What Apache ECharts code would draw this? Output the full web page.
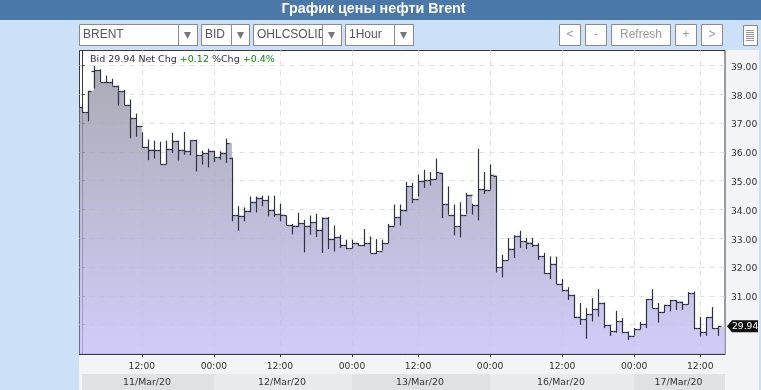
<!DOCTYPE html>
<html>
<head>
<meta charset="utf-8">
<title>BRENT</title>
<style>
html, body { margin: 0; padding: 0; background: #cce0f8; }
#main { width: 761px; height: 390px; }
</style>
<script src="https://cdn.jsdelivr.net/npm/echarts@6/dist/echarts.min.js"></script>
</head>
<body>
<div id="main"></div>
<script>
var opens = [37.57,37.37,38.80,38.84,38.42,38.41,38.30,38.11,37.64,37.18,36.91,36.18,36.08,36.05,35.58,36.11,36.39,36.07,36.02,36.40,35.88,35.96,36.04,35.82,35.97,35.80,33.79,33.78,33.96,34.27,34.41,34.32,33.98,33.84,33.82,33.46,33.44,33.53,33.44,33.56,33.30,33.72,32.97,33.04,32.77,32.66,32.85,32.76,32.83,32.49,32.54,32.83,33.44,33.74,33.97,34.80,34.37,34.99,35.01,35.06,35.27,34.19,33.82,33.42,33.82,34.51,34.14,34.71,34.66,35.17,32.00,32.23,32.64,33.09,32.89,32.85,32.77,32.37,31.79,32.11,31.42,31.19,31.04,30.28,30.19,30.37,30.54,30.75,29.99,29.79,30.13,29.74,29.62,29.84,30.03,30.89,30.57,30.45,30.69,30.84,30.80,30.72,31.09,29.88,29.76,30.25,29.88];
var highs = [37.57,38.12,38.98,38.86,38.65,38.54,38.30,38.15,37.82,37.33,36.68,36.43,36.39,36.35,36.39,36.66,36.39,36.69,36.39,36.42,36.04,36.11,36.04,36.02,36.46,35.80,34.11,34.07,34.45,34.45,34.48,34.48,34.48,34.20,33.78,33.50,33.88,33.64,33.79,33.85,33.72,33.74,33.44,33.12,32.95,32.95,32.83,33.32,33.06,32.97,32.95,33.50,34.17,34.17,34.95,34.92,35.21,35.38,35.30,35.77,35.27,34.80,34.17,34.25,34.57,34.20,36.11,35.30,35.56,35.17,32.43,33.01,33.10,33.26,33.01,33.01,32.83,32.49,32.37,32.36,31.58,31.30,31.04,30.75,30.57,30.92,31.23,30.77,29.99,30.48,30.23,29.76,29.88,30.09,30.89,31.23,30.75,30.69,30.86,30.86,30.80,31.13,31.15,30.26,30.26,30.61,29.96];
var lows = [37.37,37.06,38.20,38.42,38.39,38.30,37.61,37.63,36.47,36.53,36.14,35.71,35.77,35.58,35.58,35.96,35.70,35.90,35.88,35.32,35.56,35.46,35.65,35.73,35.62,33.59,33.26,33.59,33.90,33.90,34.11,33.76,33.74,33.59,33.45,33.13,33.39,32.51,33.12,33.04,32.49,32.62,32.54,32.66,32.62,32.66,32.74,32.72,32.49,32.46,32.58,32.83,33.44,33.44,33.93,34.22,34.45,34.75,34.83,35.04,33.70,33.82,33.10,33.03,33.85,33.82,33.62,34.54,34.69,31.81,31.64,32.25,32.31,32.66,32.62,32.69,32.25,31.77,31.58,31.41,31.15,30.86,30.22,29.99,29.51,30.11,30.28,29.88,29.61,29.72,29.70,29.47,29.62,29.84,29.88,30.57,30.07,30.42,30.46,30.51,30.51,30.71,29.84,29.59,29.61,29.85,29.61];
var closes = [37.37,38.12,38.84,38.42,38.41,38.30,38.11,37.64,37.18,36.91,36.18,36.08,36.05,35.58,36.11,36.39,36.07,36.02,36.40,35.88,35.96,36.04,35.82,35.97,36.31,33.79,33.78,33.96,34.27,34.41,34.32,33.98,33.84,33.82,33.46,33.44,33.53,33.44,33.56,33.30,33.72,32.97,33.04,32.77,32.66,32.85,32.76,32.83,32.49,32.54,32.83,33.44,33.74,33.97,34.80,34.37,34.99,35.01,35.06,35.29,34.19,33.82,33.42,33.82,34.51,34.14,34.71,34.66,35.21,32.00,32.23,32.64,33.09,32.89,32.85,32.77,32.37,31.79,32.11,31.42,31.19,31.04,30.28,30.19,30.37,30.54,30.75,29.99,29.79,30.13,29.74,29.62,29.84,30.03,30.89,30.57,30.45,30.69,30.84,30.80,30.72,31.09,29.88,29.76,30.25,29.88,29.94];

var priceTicks = [30,31,32,33,34,35,36,37,38,39];
var priceLabels = [31,32,33,34,35,36,37,38,39];
var timeTicks = [10,22,33,45,56,68,80,92,103];
var timeLabels = ['12:00','00:00','12:00','00:00','12:00','00:00','12:00','00:00','12:00'];
var dayNames = ['11/Mar/20','12/Mar/20','13/Mar/20','16/Mar/20','17/Mar/20'];
var dayStarts = [0,22,45,68,92];
var lastBid = 29.94;

var xMin = -0.38, xMax = 107.12;
var barColor = '#2c3240';
var chartFont = '"DejaVu Sans"';
var uiFont = '"Liberation Sans"';

var chart = echarts.init(document.getElementById('main'));

var bars = closes.map(function (c, i) { return [i, opens[i], highs[i], lows[i], c]; });
// area runs from axis to axis, so it needs an extra point at each end
var areaData = [[xMin, opens[0]]].concat(closes.map(function (c, i) { return [i, c]; }));
areaData.push([xMax, lastBid]);

function renderBar(params, api) {
    var x = Math.round(api.coord([api.value(0), 0])[0]) + 0.5;
    var yOpen = Math.round(api.coord([0, api.value(1)])[1]) + 0.5;
    var yHigh = api.coord([0, api.value(2)])[1];
    var yLow = api.coord([0, api.value(3)])[1];
    var yClose = Math.round(api.coord([0, api.value(4)])[1]) + 0.5;
    var st = { stroke: barColor, lineWidth: 1.2, fill: null };
    return {
        type: 'group',
        children: [
            { type: 'line', shape: { x1: x, y1: yHigh, x2: x, y2: yLow }, style: st },
            { type: 'line', shape: { x1: x - 3, y1: yOpen, x2: x, y2: yOpen }, style: st },
            { type: 'line', shape: { x1: x, y1: yClose, x2: x + 3, y2: yClose }, style: st }
        ]
    };
}

function box(x, y, w, h, z) {
    return {
        type: 'rect', z: z || 1,
        shape: { x: x + 0.5, y: y + 0.5, width: w, height: h },
        style: { fill: '#fff', stroke: '#8a8a8a', lineWidth: 1 }
    };
}
function label(x, y, text, color, font, align, z) {
    return {
        type: 'text', z: z || 2, x: x, y: y,
        style: { text: text, fill: color, font: font, align: align || 'left', verticalAlign: 'middle' }
    };
}
function combo(x, w, divider, text) {
    return [
        box(x, 24, w, 21),
        label(x + 4, 35, text, '#555', '12px ' + uiFont),
        box(divider, 24, x + w - divider, 21, 3),
        { type: 'polygon', z: 4, shape: { points: [[divider + 6, 32], [divider + 13, 32], [divider + 9.5, 39]] }, style: { fill: '#777' } }
    ];
}
function button(x, w, text) {
    return [box(x, 24, w, 21), label(x + w / 2 + 0.5, 35, text, '#999', '12px ' + uiFont, 'center')];
}

var chrome = [
    { type: 'rect', z: 1, shape: { x: 0, y: 0, width: 761, height: 20 }, style: { fill: '#4a78a8' } },
    label(373.5, 9, 'График цены нефти Brent', '#fff', 'bold 14.3px ' + uiFont, 'center'),
    { type: 'rect', z: -5, shape: { x: 79, y: 50, width: 680, height: 340 }, style: { fill: '#f2f4f6' } }
].concat(
    combo(79, 118, 178, 'BRENT'),
    combo(201, 48, 231, 'BID'),
    combo(253, 88, 322, 'OHLCSOLID'),
    combo(345, 68, 394, '1Hour'),
    button(559, 21, '<'),
    button(585, 21, '-'),
    button(611, 59, 'Refresh'),
    button(675, 21, '+'),
    button(701, 21, '>'),
    [box(743, 25, 14, 20)],
    [30, 32, 34, 36, 38, 40].map(function (y) {
        return { type: 'line', z: 2, shape: { x1: 746, y1: y + 0.5, x2: 754, y2: y + 0.5 }, style: { stroke: '#999', lineWidth: 1 } };
    })
);

var option = {
    animation: false,
    backgroundColor: '#cce0f8',
    textStyle: { fontFamily: 'DejaVu Sans' },
    grid: {
        left: 79.5, top: 50.5, width: 645.5, height: 303.5,
        show: true, backgroundColor: '#fff', borderColor: '#3a3a3a', borderWidth: 1
    },
    xAxis: {
        type: 'value', min: xMin, max: xMax,
        axisLine: { show: true, lineStyle: { color: '#3a3a3a' } },
        axisTick: { show: true, length: 3, customValues: timeTicks, lineStyle: { color: '#3a3a3a' } },
        axisLabel: {
            customValues: timeTicks, color: '#333', fontSize: 9.2, margin: 8,
            formatter: function (v) { return timeLabels[timeTicks.indexOf(v)]; }
        },
        splitLine: { show: true, lineStyle: { color: '#e0e0e4', type: [5, 5] } }
    },
    yAxis: {
        type: 'value', position: 'right', min: 28.98, max: 39.52, scale: true,
        axisLine: { show: true, lineStyle: { color: '#3a3a3a' } },
        axisTick: { show: true, length: 3, customValues: priceTicks, lineStyle: { color: '#3a3a3a' } },
        axisLabel: {
            customValues: priceLabels, margin: 6,
            formatter: function (v) { return '{p|' + v.toFixed(2) + '}'; },
            rich: { p: { color: '#333', fontSize: 9.2, padding: [4, 0, 0, 0] } }
        },
        splitLine: { show: true, lineStyle: { color: '#e0e0e4', type: [5, 5] } }
    },
    series: [
        {
            type: 'line', data: areaData, step: 'end', showSymbol: false, silent: true, z: 2,
            lineStyle: { width: 0 },
            areaStyle: {
                opacity: 1,
                color: new echarts.graphic.LinearGradient(0, 0, 0, 1, [
                    { offset: 0, color: 'rgba(151,151,164,0.8)' },
                    { offset: 1, color: 'rgba(196,191,246,0.8)' }
                ])
            }
        },
        {
            type: 'custom', data: bars, renderItem: renderBar, silent: true, z: 3,
            encode: { x: 0, y: [1, 2, 3, 4] }
        }
    ],
    graphic: { elements: chrome }
};
chart.setOption(option);

// parts placed from the axis scales once the chart exists
var xPix = function (v) { return Math.round(chart.convertToPixel({ xAxisIndex: 0 }, v)); };
var bidY = chart.convertToPixel({ yAxisIndex: 0 }, lastBid);
var extras = [];
dayNames.forEach(function (name, i) {
    var from = xPix(dayStarts[i]);
    var to = i + 1 < dayStarts.length ? xPix(dayStarts[i + 1]) : xPix(xMax);
    extras.push({ type: 'rect', z: -4, shape: { x: from, y: 374, width: to - from, height: 16 },
        style: { fill: i % 2 ? '#e9eaec' : '#e0e1e3' } });
    extras.push(label((from + to) / 2 - 1, 382.5, name, '#333', '9.4px ' + chartFont, 'center'));
});
extras.push({ type: 'polygon', z: 5, shape: { points: [[727, bidY], [732, bidY - 6], [758, bidY - 6], [758, bidY + 6], [732, bidY + 6]] }, style: { fill: '#111' } });
extras.push(label(732, bidY + 0.5, lastBid.toFixed(2), '#fff', '9.2px ' + chartFont, 'left', 6));
extras.push({
    type: 'text', z: 6, x: 90, y: 60,
    style: {
        text: '{d|Bid 29.94 Net Chg }{g|+0.12}{d| %Chg }{g|+0.4%}',
        verticalAlign: 'middle', font: '9.5px ' + chartFont,
        rich: {
            d: { fill: '#333', font: '9.5px ' + chartFont },
            g: { fill: '#0a8a0a', font: '9.5px ' + chartFont }
        }
    }
});
chart.setOption({ graphic: { elements: chrome.concat(extras) } });
</script>
</body>
</html>
